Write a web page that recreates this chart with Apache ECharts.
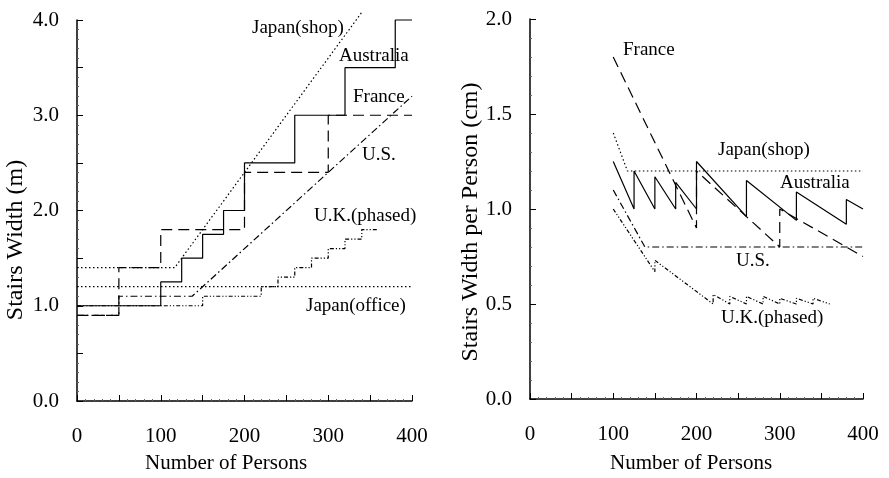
<!DOCTYPE html>
<html><head><meta charset="utf-8">
<script src="https://cdn.jsdelivr.net/npm/echarts@6/dist/echarts.min.js"></script>
<style>html,body{margin:0;padding:0;background:#fff}#c{width:889px;height:478px}</style>
</head><body><div id="c"></div>
<script>
// ---- Left chart: stairs width (m) vs number of persons ----
const ausX = [0, 100, 125, 150, 175, 200, 260, 320, 380, 400];
const ausW = [1.0, 1.25, 1.5, 1.75, 2.0, 2.5, 3.0, 3.5, 4.0, 4.0];
const franceX = [0, 50, 100, 200, 300, 400];
const franceW = [0.9, 1.4, 1.8, 2.4, 3.0, 3.0];
const ukX = [0, 150, 220, 240, 260, 280, 300, 320, 340, 360];
const ukW = [1.0, 1.1, 1.2, 1.3, 1.4, 1.5, 1.6, 1.7, 1.8, 1.8];
const usX = [0, 50, 50, 137.5, 400];
const usW = [0.9, 0.9, 1.1, 1.1, 3.2];
const jShopX = [0, 116.7, 340];
const jShopW = [1.4, 1.4, 4.08];
const jOfficeX = [0, 400];
const jOfficeW = [1.2, 1.2];
// ---- Right chart: stairs width per person (cm) ----
const ausPX = [100, 125, 125, 150, 150, 175, 175, 200, 200, 260, 260, 320, 320, 380, 380, 400];
const ausP = [1.25, 1.0, 1.2, 1.0, 1.17, 1.0, 1.14, 1.0, 1.25, 0.96, 1.15, 0.94, 1.09, 0.92, 1.05, 1.0];
const francePX = [100, 200, 200, 300, 300, 400];
const franceP = [1.8, 0.9, 1.2, 0.8, 1.0, 0.75];
const jShopPX = [100, 117, 400];
const jShopP = [1.4, 1.2, 1.2];
const usPX = [100, 138, 400];
const usP = [1.1, 0.8, 0.8];
const ukPX = [100, 150, 150, 220, 220, 240, 240, 260, 260, 280, 280, 300, 300, 320, 320, 340, 340, 360];
const ukP = [1.0, 0.67, 0.73, 0.5, 0.55, 0.5, 0.54, 0.5, 0.54, 0.5, 0.54, 0.5, 0.53, 0.5, 0.53, 0.5, 0.53, 0.5];
// tick labels
const xTickLabels = [0, 100, 200, 300, 400];
const yLeftTickLabels = [0, 1, 2, 3, 4];
const yRightTickLabels = [0, 0.5, 1.0, 1.5, 2.0];

const FONT = 'Liberation Serif';
const pairs = (xs, ys) => xs.map((x, i) => [x, ys[i]]);

const styles = {
  aus: { type: 'solid' },
  france: { type: [11, 6] },
  us: { type: [7, 3, 1.5, 3] },
  uk: { type: [4, 2, 1.2, 2, 1.2, 2] },
  jshop: { type: [1.5, 2.5] },
  joffice: { type: [1.5, 2.5] }
};
function line(name, xs, ys, st, gi, step) {
  return {
    name, type: 'line', xAxisIndex: gi, yAxisIndex: gi,
    data: pairs(xs, ys), symbol: 'none', step: step || false, clip: false,
    lineStyle: { color: '#000', width: 1.2, type: st.type },
    silent: true
  };
}
function xAx(gi) {
  return {
    gridIndex: gi, type: 'value', min: 0, max: 400, interval: 50,
    axisLine: { show: true, onZero: false, lineStyle: { color: '#000', width: 1.5 } },
    axisTick: { show: true, inside: true, length: 6, lineStyle: { color: '#000', width: 1 } },
    minorTick: { show: true, splitNumber: 5, length: 2, lineStyle: { color: '#666', width: 1 } },
    splitLine: { show: false },
    axisLabel: {
      margin: 25, color: '#000', fontFamily: FONT, fontSize: 21,
      formatter: v => xTickLabels.indexOf(v) >= 0 ? String(v) : ''
    }
  };
}
function yAx(gi, max, labels) {
  return {
    gridIndex: gi, type: 'value', min: 0, max: max, interval: 0.5,
    axisLine: { show: true, onZero: false, lineStyle: { color: '#000', width: 1.5 } },
    axisTick: { show: true, inside: true, length: 6, lineStyle: { color: '#000', width: 1 } },
    minorTick: { show: true, splitNumber: 5, length: 2, lineStyle: { color: '#666', width: 1 } },
    splitLine: { show: false },
    axisLabel: {
      margin: 18, color: '#000', fontFamily: FONT, fontSize: 21,
      formatter: v => labels.some(l => Math.abs(l - v) < 1e-9) ? v.toFixed(1) : ''
    }
  };
}
function txt(s, left, cy, size, rot) {
  const o = {
    type: 'text', left: left, top: cy - size * 0.6,
    style: { text: s, fill: '#000', font: size + 'px "' + FONT + '"' },
    silent: true
  };
  return o;
}
function rtxt(s, cx, cy, size) {
  return {
    type: 'text', x: cx, y: cy, rotation: Math.PI / 2,
    style: { text: s, fill: '#000', font: size + 'px "' + FONT + '"', align: 'center', verticalAlign: 'middle' },
    silent: true
  };
}

const chart = echarts.init(document.getElementById('c'), null, { renderer: 'canvas' });
chart.setOption({
  animation: false,
  backgroundColor: '#fff',
  grid: [
    { left: 77, top: 20, width: 335, height: 381 },
    { left: 530, top: 19, width: 333, height: 380 }
  ],
  xAxis: [xAx(0), xAx(1)],
  yAxis: [yAx(0, 4, yLeftTickLabels), yAx(1, 2, yRightTickLabels)],
  series: [
    line('Australia', ausX, ausW, styles.aus, 0, 'end'),
    line('France', franceX, franceW, styles.france, 0, 'end'),
    line('U.K.(phased)', ukX, ukW, styles.uk, 0, 'end'),
    line('U.S.', usX, usW, styles.us, 0),
    line('Japan(shop)', jShopX, jShopW, styles.jshop, 0),
    line('Japan(office)', jOfficeX, jOfficeW, styles.joffice, 0),
    line('Australia', ausPX, ausP, styles.aus, 1),
    line('France', francePX, franceP, styles.france, 1),
    line('Japan(shop)', jShopPX, jShopP, styles.jshop, 1),
    line('U.S.', usPX, usP, styles.us, 1),
    line('U.K.(phased)', ukPX, ukP, styles.uk, 1)
  ],
  graphic: [
    txt('Japan(shop)', 252, 30, 19),
    txt('Australia', 339, 58, 19),
    txt('France', 353, 99, 19),
    txt('U.S.', 362, 157, 19),
    txt('U.K.(phased)', 314, 218, 19),
    txt('Japan(office)', 306, 308, 19),
    txt('France', 623, 52, 19),
    txt('Japan(shop)', 718, 152, 19),
    txt('Australia', 780, 185, 19),
    txt('U.S.', 736, 263, 19),
    txt('U.K.(phased)', 721, 320, 19),
    txt('Number of Persons', 145, 466, 21),
    txt('Number of Persons', 610, 466, 21),
    { type: 'text', x: 16, y: 240, rotation: Math.PI / 2,
      style: { text: 'Stairs Width (m)', fill: '#000', font: '24px "' + FONT + '"', align: 'center', verticalAlign: 'middle' } },
    { type: 'text', x: 471, y: 222, rotation: Math.PI / 2,
      style: { text: 'Stairs Width per Person (cm)', fill: '#000', font: '24px "' + FONT + '"', align: 'center', verticalAlign: 'middle' } }
  ]
});
</script></body></html>
